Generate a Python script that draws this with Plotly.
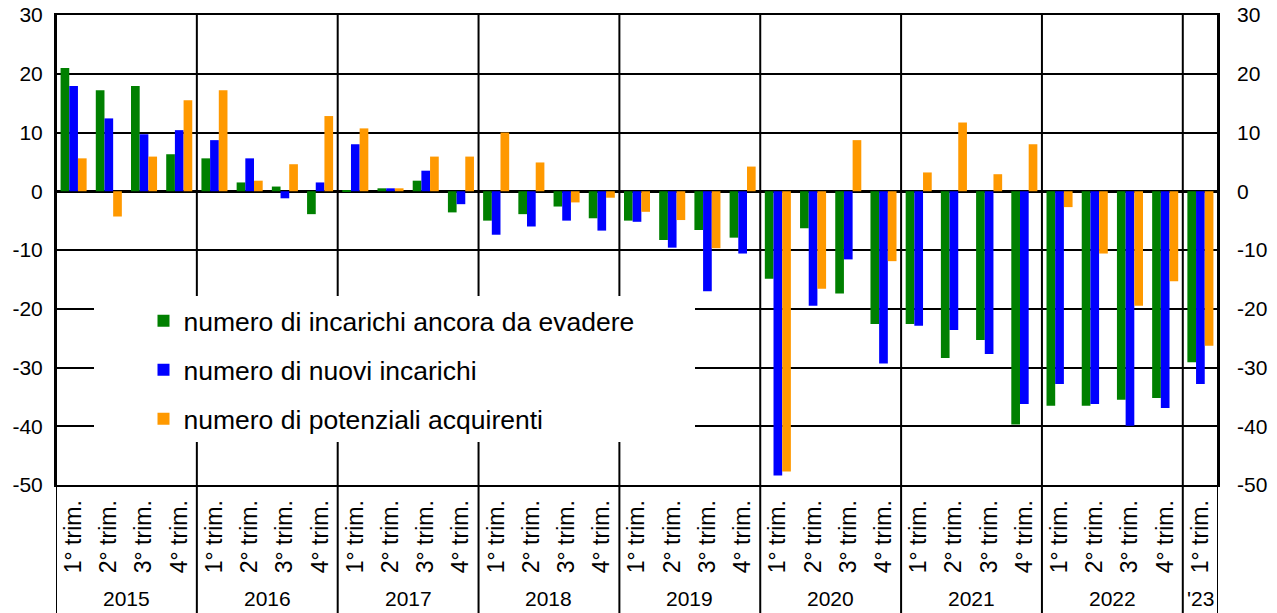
import plotly.graph_objects as go

years = ["2015", "2016", "2017", "2018", "2019", "2020", "2021", "2022", "'23"]
quarters_per_year = [4, 4, 4, 4, 4, 4, 4, 4, 1]
quarter_labels = ["1° trim.", "2° trim.", "3° trim.", "4° trim."]

series_names = [
    "numero di incarichi ancora da evadere",
    "numero di nuovi incarichi",
    "numero di potenziali acquirenti",
]

ancora_da_evadere = [
    21.0, 17.2, 17.9, 6.3,
    5.6, 1.5, 0.8, -3.9,
    0.1, 0.5, 1.8, -3.6,
    -5.0, -3.9, -2.6, -4.6,
    -5.0, -8.3, -6.6, -7.9,
    -14.9, -6.3, -17.4, -22.6,
    -22.6, -28.4, -25.3, -39.7,
    -36.5, -36.5, -35.5, -35.2,
    -29.1,
]
nuovi_incarichi = [
    17.9, 12.4, 9.7, 10.4,
    8.7, 5.6, -1.2, 1.5,
    8.0, 0.5, 3.5, -2.2,
    -7.4, -6.0, -5.0, -6.7,
    -5.2, -9.6, -17.0, -10.6,
    -48.4, -19.5, -11.6, -29.3,
    -22.9, -23.6, -27.7, -36.2,
    -32.8, -36.2, -39.9, -36.9,
    -32.8,
]
potenziali_acquirenti = [
    5.6, -4.3, 5.9, 15.5,
    17.2, 1.8, 4.6, 12.8,
    10.7, 0.5, 5.9, 5.9,
    10.0, 4.9, -1.9, -1.1,
    -3.5, -4.9, -9.7, 4.2,
    -47.7, -16.6, 8.7, -11.9,
    3.2, 11.7, 2.9, 8.0,
    -2.7, -10.6, -19.5, -15.3,
    -26.3,
]
colors = ["#008000", "#0000FF", "#FF9900"]

y_ticks = [-50, -40, -30, -20, -10, 0, 10, 20, 30]
y_tick_text = ["-50", "-40", "-30", "-20", "-10", "0", "10", "20", "30"]

# category positions
tick_text = []
for n in quarters_per_year:
    tick_text += quarter_labels[:n]
xpos = list(range(len(tick_text)))

fig = go.Figure()
for name, vals, col in zip(series_names, [ancora_da_evadere, nuovi_incarichi, potenziali_acquirenti], colors):
    fig.add_trace(go.Bar(x=xpos, y=vals, name=name, marker=dict(color=col, line=dict(width=0)),
                         legendgroup=name))
# invisible trace to activate the right axis
fig.add_trace(go.Scatter(x=[0], y=[0], yaxis="y2", mode="lines", showlegend=False,
                         hoverinfo="skip", line=dict(width=0)))

font_family = "Arial, Liberation Sans, sans-serif"
ytick = dict(range=[-50, 30], tickvals=y_ticks, ticktext=y_tick_text, ticks="",
             tickfont=dict(family=font_family, size=21, color="#000"), fixedrange=True,
             automargin=False)

fig.update_layout(
    width=1277, height=613,
    margin=dict(l=56, r=59, t=15, b=128),
    paper_bgcolor="white", plot_bgcolor="white",
    barmode="group", bargap=0.26, bargroupgap=0,
    showlegend=True,
    legend=dict(x=0.0753, y=0.4, xanchor="left", yanchor="top",
                bgcolor="rgba(0,0,0,0)", font=dict(family=font_family, size=26.5, color="#000"),
                tracegroupgap=11.5, traceorder="grouped"),
    xaxis=dict(range=[-0.5, len(xpos) - 0.5], tickvals=xpos, ticktext=tick_text,
               tickangle=-90, ticks="", showgrid=False, zeroline=False,
               showline=True, linecolor="black", linewidth=2, mirror=True,
               tickfont=dict(family=font_family, size=23, color="#000"),
               ticklabelstandoff=4, automargin=False),
    yaxis=dict(**ytick, showgrid=True, gridcolor="black", gridwidth=1.5,
               zeroline=True, zerolinecolor="black", zerolinewidth=3,
               showline=True, linecolor="black", linewidth=2, mirror=True,
               ticklabelstandoff=7),
    yaxis2=dict(**ytick, overlaying="y", side="right", showgrid=False, zeroline=False,
                ticklabelstandoff=18),
)

# year separators and year labels
shapes = []
annotations = []
start = 0
y_bottom = -128 / 470
for yr, n in zip(years, quarters_per_year):
    shapes.append(dict(type="line", xref="x", yref="paper", x0=start - 0.5, x1=start - 0.5,
                       y0=y_bottom, y1=1, line=dict(color="black", width=2), layer="above"))
    annotations.append(dict(xref="x", yref="paper", x=start + (n - 1) / 2, y=-113 / 470,
                            text=yr, showarrow=False, yanchor="middle",
                            font=dict(family=font_family, size=21, color="#000")))
    start += n
shapes.append(dict(type="line", xref="x", yref="paper", x0=start - 0.5, x1=start - 0.5,
                   y0=y_bottom, y1=1, line=dict(color="black", width=2), layer="above"))
# white legend box
shapes.append(dict(type="rect", xref="paper", yref="paper", x0=38 / 1162, x1=639 / 1162,
                   y0=(485 - 442) / 470, y1=(485 - 296) / 470,
                   fillcolor="white", line=dict(width=0), layer="above"))
fig.update_layout(shapes=shapes, annotations=annotations)

fig.write_html("out.html", config={"displayModeBar": False},
               post_script="document.body.style.margin='0';")
